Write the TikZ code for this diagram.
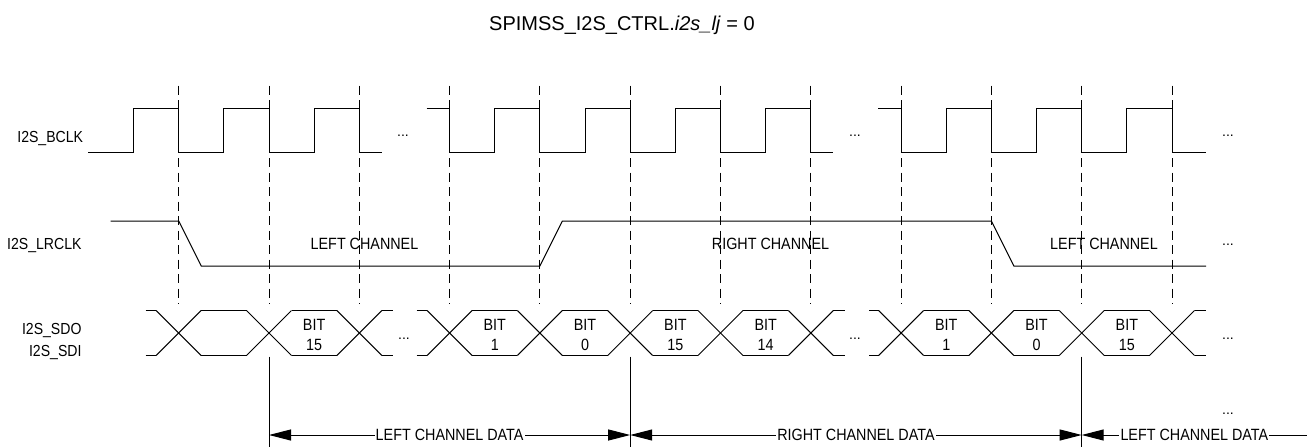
\documentclass[tikz,border=0pt]{standalone}
\usepackage{fontspec}
\setmainfont{Liberation Sans}
\newfontfamily\condfont[FakeStretch=0.88]{Liberation Sans}
\usetikzlibrary{arrows.meta}

\begin{document}
\begin{tikzpicture}[x=1pt, y=-1pt,
  wave/.style={line width=1pt, line join=miter},
  gridline/.style={line width=0.9pt, dash pattern=on 9pt off 5.5pt},
  boundary/.style={line width=1pt},
  sig/.style={font=\condfont\fontsize{16}{18}\selectfont, inner sep=0pt, anchor=base east},
  lbl/.style={font=\condfont\fontsize{16.3}{18}\selectfont, inner sep=0pt, anchor=base},
  dotlbl/.style={font=\fontsize{14}{16}\selectfont, inner sep=0pt, anchor=base},
  spanarr/.style={line width=1pt, {Triangle[length=22pt,width=11pt]}-{Triangle[length=22pt,width=11pt]}},
  spanleft/.style={line width=1pt, {Triangle[length=22pt,width=11pt]}-},
  spantxt/.style={font=\condfont\fontsize{16.3}{18}\selectfont, fill=white, inner sep=1.2pt}
]
\useasboundingbox (0,0) rectangle (1309,447);

% bit-clock grid: falling edges of I2S_BCLK
\def\P{90.3}
\def\Dz{178.7}
\foreach \k in {0,...,11}{
  \draw[gridline] (\Dz+\P*\k,85.5) -- (\Dz+\P*\k,304);
}

% title
\node[font=\fontsize{20}{24}\selectfont, inner sep=0pt, anchor=base] (title) at (622,30)
  {SPIMSS\_I2S\_CTRL.\textit{i2s\_lj} = 0};

% signal names
\node[sig] (nbclk) at (83.3,142.7) {I2S\_BCLK};
\node[sig] (nlrclk) at (81.7,249.3) {I2S\_LRCLK};
\node[sig] (nsdo) at (81.7,334.3) {I2S\_SDO};
\node[sig] (nsdi) at (81.7,356) {I2S\_SDI};

% I2S_BCLK
\def\hi{108.5}\def\lo{152.8}
\draw[wave] (88,\lo) -- (133.55,\lo) -- (133.55,\hi) -- (178.7,\hi) -- (178.7,\lo)
  -- (223.85,\lo) -- (223.85,\hi) -- (269,\hi) -- (269,\lo)
  -- (314.15,\lo) -- (314.15,\hi) -- (359.3,\hi) -- (359.3,\lo) -- (382.3,\lo);
\draw[wave] (426.7,\hi) -- (449.6,\hi) -- (449.6,\lo)
  -- (494.75,\lo) -- (494.75,\hi) -- (539.9,\hi) -- (539.9,\lo)
  -- (585.05,\lo) -- (585.05,\hi) -- (630.2,\hi) -- (630.2,\lo)
  -- (675.35,\lo) -- (675.35,\hi) -- (720.5,\hi) -- (720.5,\lo)
  -- (765.65,\lo) -- (765.65,\hi) -- (810.8,\hi) -- (810.8,\lo) -- (833.3,\lo);
\draw[wave] (878.3,\hi) -- (901.1,\hi) -- (901.1,\lo)
  -- (946.25,\lo) -- (946.25,\hi) -- (991.4,\hi) -- (991.4,\lo)
  -- (1036.55,\lo) -- (1036.55,\hi) -- (1081.7,\hi) -- (1081.7,\lo)
  -- (1126.85,\lo) -- (1126.85,\hi) -- (1172,\hi) -- (1172,\lo) -- (1205.7,\lo);
\node[dotlbl] (d1) at (403,136) {...};
\node[dotlbl] (d2) at (855,136) {...};
\node[dotlbl] (d3) at (1228,136) {...};

% I2S_LRCLK
\draw[wave] (110.7,221) -- (178.7,221) -- (201.2,266) -- (539.9,266) -- (562.4,221)
  -- (991.4,221) -- (1013.9,266) -- (1206,266);
\node[lbl] (lc1) at (364.5,249.3) {LEFT CHANNEL};
\node[lbl] (rc1) at (770.5,249.3) {RIGHT CHANNEL};
\node[lbl] (lc2) at (1104,249.3) {LEFT CHANNEL};
\node[dotlbl] (d4) at (1228,245) {...};

% I2S_SDO / I2S_SDI data eye
\def\tp{310.5}\def\bt{355.5}\def\d{22.5}
\foreach \c in {178.7,269,359.3,449.6,539.9,630.2,720.5,810.8,901.1,991.4,1081.7,1172}{
  \draw[wave] (\c-\d,\tp) -- (\c+\d,\bt);
  \draw[wave] (\c-\d,\bt) -- (\c+\d,\tp);
}
\foreach \a/\b in {145.7/156.2, 201.2/246.5, 291.5/336.8, 381.8/392.7,
                   416.7/427.1, 472.1/517.4, 562.4/607.7, 652.7/698.0, 743.0/788.3, 833.3/845,
                   869.3/878.6, 923.6/968.9, 1013.9/1059.2, 1104.2/1149.5, 1194.5/1206}{
  \draw[wave] (\a,\tp) -- (\b,\tp);
  \draw[wave] (\a,\bt) -- (\b,\bt);
}
\foreach \x/\n [count=\i] in {314.15/15, 494.75/1, 585.05/0, 675.35/15, 765.65/14,
                              946.25/1, 1036.55/0, 1126.85/15}{
  \node[lbl] (bit\i) at (\x,330) {BIT};
  \node[lbl] (num\i) at (\x,350.7) {\n};
}
\node[dotlbl] (d5) at (404,339) {...};
\node[dotlbl] (d6) at (855,339) {...};
\node[dotlbl] (d7) at (1228,339) {...};

% frame boundaries and channel spans
\coordinate (m1t) at (269,356.7);    \coordinate (m1b) at (269,447);
\coordinate (m2t) at (630.2,356.7);  \coordinate (m2b) at (630.2,447);
\coordinate (m3t) at (1081.7,356.7); \coordinate (m3b) at (1081.7,447);
\draw[boundary] (m1t) -- (m1b);
\draw[boundary] (m2t) -- (m2b);
\draw[boundary] (m3t) -- (m3b);

\coordinate (s1) at (269,435);
\coordinate (s2) at (630.2,435);
\coordinate (s3) at (1081.7,435);
\coordinate (s4) at (1307,435);
\draw[spanarr] (s1) -- node[spantxt] (lcd1) {LEFT CHANNEL DATA} (s2);
\draw[spanarr] (s2) -- node[spantxt] (rcd) {RIGHT CHANNEL DATA} (s3);
\draw[spanleft] (s3) -- node[spantxt] (lcd2) {LEFT CHANNEL DATA} (s4);
\node[dotlbl] (d8) at (1228,414) {...};
\end{tikzpicture}
\end{document}
